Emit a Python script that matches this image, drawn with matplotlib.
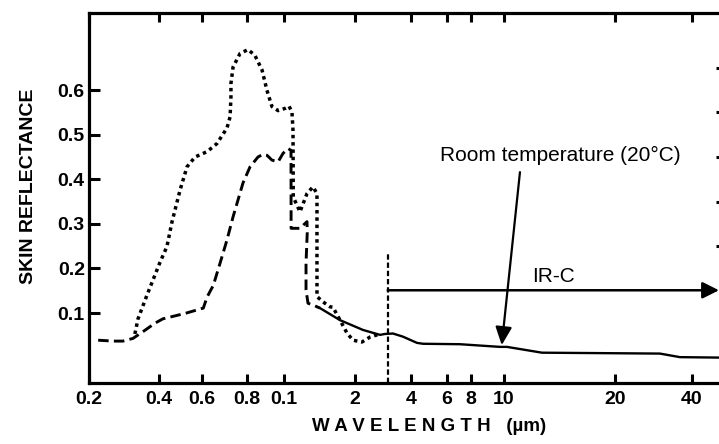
import numpy as np
import matplotlib
matplotlib.use('Agg')
import matplotlib.pyplot as plt

plt.rcParams['font.family'] = ['Liberation Sans', 'DejaVu Sans']

# dashed curve
dashed_wl = [0.219, 0.254, 0.280, 0.309, 0.341, 0.384, 0.415, 0.511, 0.605, 0.620, 0.645, 0.673,
             0.704, 0.732, 0.780, 0.815, 0.855, 0.881, 0.902, 0.930, 0.965, 0.994, 1.040, 1.071,
             1.072, 1.169, 1.252, 1.255, 1.240, 1.240, 1.264, 1.353, 1.421]
dashed_r = [0.039, 0.037, 0.037, 0.043, 0.058, 0.077, 0.087, 0.099, 0.111, 0.136, 0.162, 0.211,
            0.264, 0.316, 0.392, 0.428, 0.450, 0.456, 0.454, 0.443, 0.439, 0.458, 0.469, 0.465,
            0.290, 0.290, 0.305, 0.280, 0.212, 0.152, 0.122, 0.116, 0.111]

# dotted curve
dotted_wl = [0.315, 0.325, 0.355, 0.404, 0.431, 0.452, 0.488, 0.521, 0.562, 0.620, 0.660, 0.704,
             0.718, 0.722, 0.722, 0.732, 0.765, 0.805, 0.839, 0.876, 0.902, 0.930, 0.965, 1.010,
             1.050, 1.081, 1.092, 1.095, 1.169, 1.252, 1.327, 1.380, 1.380, 1.380, 1.463, 1.567,
             1.613, 1.728, 1.850, 1.961, 2.181, 2.408, 2.726]
dotted_r = [0.053, 0.087, 0.140, 0.214, 0.249, 0.304, 0.376, 0.428, 0.450, 0.462, 0.480, 0.515,
            0.540, 0.585, 0.615, 0.652, 0.682, 0.691, 0.678, 0.645, 0.600, 0.563, 0.554, 0.559,
            0.564, 0.551, 0.510, 0.360, 0.327, 0.368, 0.383, 0.368, 0.249, 0.137, 0.125, 0.114,
            0.113, 0.084, 0.055, 0.039, 0.035, 0.046, 0.053]

# common solid tail
solid_wl = [1.421, 1.728, 2.208, 2.726, 2.90, 3.20, 3.62, 4.28, 4.58, 7.01, 9.74, 10.19,
            12.68, 29.98, 35.9, 51.0]
solid_r = [0.111, 0.084, 0.062, 0.051, 0.053, 0.054, 0.047, 0.033, 0.031, 0.030, 0.024, 0.024,
           0.011, 0.009, 0.001, 0.0]

tick_wl = [0.2, 0.4, 0.6, 0.8, 1, 2, 4, 6, 8, 10, 20, 40]
tick_labels = ['0.2', '0.4', '0.6', '0.8', '0.1', '2', '4', '6', '8', '10', '20', '40']
ytick_vals = [0.1, 0.2, 0.3, 0.4, 0.5, 0.6]
right_ticks = [0.25, 0.35, 0.45, 0.55, 0.65]

# the printed axis is not a clean log axis, so the scale is stretched piecewise between ticks
scale_wl = np.array([0.1, 0.2, 0.4, 0.6, 0.8, 1, 2, 4, 6, 8, 10, 20, 40, 100])
scale_px = np.array([19, 89, 159, 202, 247, 284, 355, 411, 447, 471, 504, 615, 692, 794])


def fwd(x):
    return np.interp(np.log10(np.clip(x, 1e-6, None)), np.log10(scale_wl), scale_px)


def inv(p):
    return 10 ** np.interp(p, scale_px, np.log10(scale_wl))


fig = plt.figure(figsize=(7.19, 4.44), dpi=100)
ax = fig.add_axes([89 / 719, 61 / 444, 630 / 719, 370 / 444])
ax.set_xscale('function', functions=(fwd, inv))
ax.set_xlim(0.2, 51)
ax.set_ylim(-0.057, 0.773)

ax.plot(dotted_wl, dotted_r, color='black', lw=2.5, linestyle=(0, (1, 1.1)))
ax.plot(dashed_wl, dashed_r, color='black', lw=2.1, linestyle=(0, (3.6, 1.8)))
ax.plot(solid_wl, solid_r, color='black', lw=1.7)

# IR-C marker
ax.vlines(3, -0.057, 0.235, color='black', lw=1.6, linestyle=(0, (2.4, 1.3)))
ax.annotate('', xy=(51, 0.151), xytext=(3, 0.151),
            arrowprops=dict(arrowstyle='-|>,head_length=0.5,head_width=0.25', color='black',
                            lw=1.8, mutation_scale=20, shrinkA=0, shrinkB=0))
ax.text(13.6, 0.183, 'IR-C', ha='center', va='center', fontsize=15)

ax.annotate('', xy=(9.85, 0.028), xytext=(11.05, 0.416),
            arrowprops=dict(arrowstyle='-|>,head_length=0.55,head_width=0.25', color='black',
                            lw=1.6, mutation_scale=20, shrinkA=0, shrinkB=0))
ax.text(14.2, 0.454, 'Room temperature (20°C)', ha='center', va='center', fontsize=15)

ax.set_xticks(tick_wl, tick_labels)
ax.set_xticks([1, 10], minor=True)
ax.set_yticks(ytick_vals, [f'{v:.1f}' for v in ytick_vals])
ax.tick_params(axis='x', which='major', direction='in', length=6.5, width=2.2,
               top=True, bottom=True, labelsize=14, pad=6)
ax.tick_params(axis='x', which='minor', direction='in', length=15, width=2.2,
               top=True, bottom=True)
ax.tick_params(axis='y', direction='in', length=8, width=2.2, labelsize=14, pad=3,
               right=False)
for lbl in ax.get_xticklabels() + ax.get_yticklabels():
    lbl.set_fontweight('bold')

for side in ['left', 'top', 'bottom']:
    ax.spines[side].set_linewidth(2.3)
ax.spines['right'].set_visible(False)

ax2 = ax.twinx()
ax2.set_ylim(ax.get_ylim())
ax2.set_yticks(right_ticks)
ax2.tick_params(axis='y', direction='in', length=2.5, width=2.2, labelright=False)
for s in ax2.spines.values():
    s.set_visible(False)

ax.set_ylabel('SKIN REFLECTANCE', fontsize=14, fontweight='bold')
ax.yaxis.set_label_coords(-0.083, 0.532)
ax.set_xlabel('W A V E L E N G T H   (µm)', fontsize=13.5, fontweight='bold')
ax.xaxis.set_label_coords(0.54, -0.094)

fig.savefig('out.png', dpi=100)
